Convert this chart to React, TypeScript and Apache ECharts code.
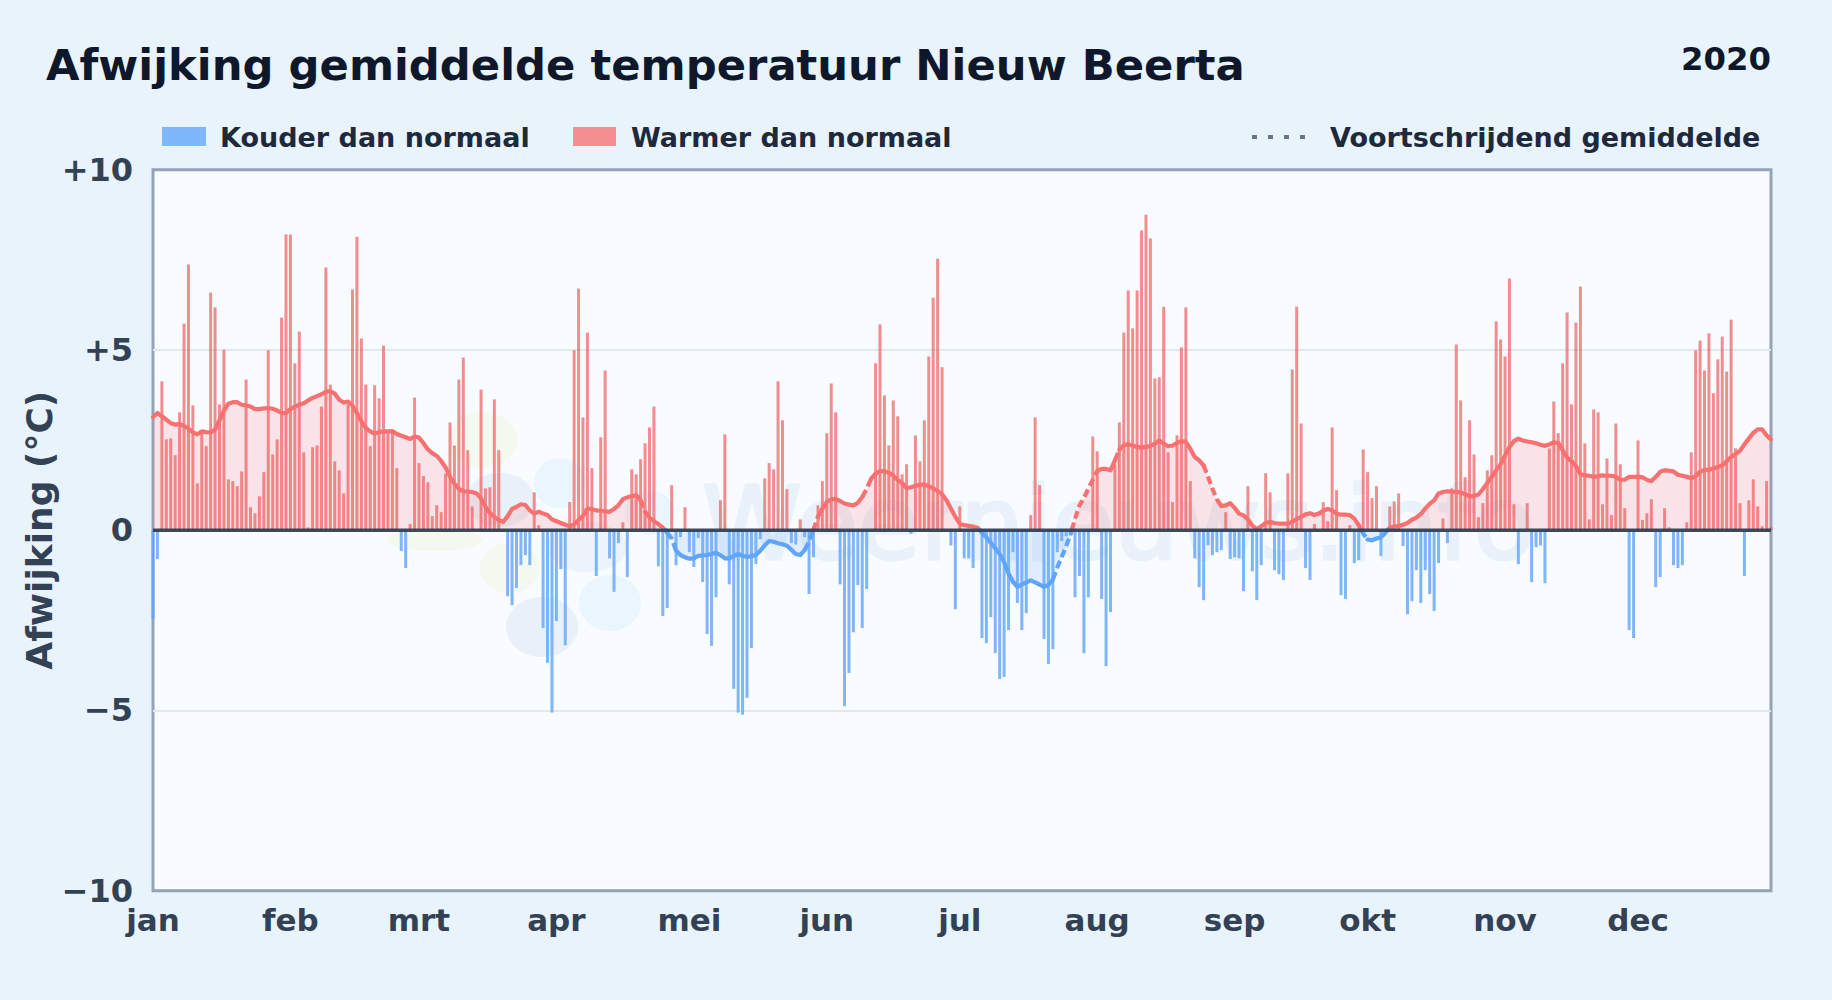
import React, { useEffect, useRef } from "react";
import * as echarts from "echarts";

const title = "Afwijking gemiddelde temperatuur Nieuw Beerta";
const yearLabel = "2020";
const yAxisTitle = "Afwijking (°C)";
const coldLabel = "Kouder dan normaal";
const warmLabel = "Warmer dan normaal";
const averageLabel = "Voortschrijdend gemiddelde";
const watermark = "Weernieuws.info";
const monthLabels = ["jan", "feb", "mrt", "apr", "mei", "jun", "jul", "aug", "sep", "okt", "nov", "dec"];
const monthStartDays = [0, 31, 60, 91, 121, 152, 182, 213, 244, 274, 305, 335];
const yTicks = ["−10", "−5", "0", "+5", "+10"];

const dailyDeviation = [
  -2.46,-0.8,4.13,2.52,2.55,2.08,3.27,5.73,7.37,3.46,
  1.3,2.75,2.33,6.59,6.18,3.49,5.01,1.41,1.36,1.22,
  1.63,4.18,0.64,0.47,0.94,1.61,4.99,2.1,2.52,5.9,
  8.2,8.2,4.63,5.51,2.16,0.08,2.3,2.35,3.43,7.29,
  4.04,1.91,1.66,1.02,3.5,6.68,8.14,5.32,4.04,2.33,
  4.02,3.66,5.12,2.72,2.75,1.72,-0.58,-1.05,0.17,3.68,
  1.86,1.5,1.33,0.39,0.69,0.5,1.57,2.99,2.35,4.18,
  4.79,2.22,0.66,0,3.9,1.16,1.19,3.63,2.22,0,
  -1.83,-2.08,-1.6,-0.97,-0.69,-0.97,1.05,0.14,-2.71,-3.68,
  -5.06,-2.52,-1.08,-3.19,0.78,4.99,6.7,3.13,5.48,1.72,
  -1.27,2.58,4.43,-0.78,-1.71,-0.36,0.22,-1.3,1.69,1.55,
  1.97,2.41,2.85,3.43,-1.0,-2.38,-2.16,1.25,-0.97,-0.19,
  0.64,-0.61,-1.02,-0.22,-1.44,-2.88,-3.21,-1.86,0.83,2.66,
  -1.5,-4.4,-5.06,-5.12,-4.65,-3.27,-0.94,-0.25,1.44,1.86,
  1.69,4.13,3.05,1.14,-0.36,-0.4,0.3,-0.19,-1.77,-0.75,
  0.69,1.36,2.69,4.07,3.27,-1.5,-4.88,-3.96,-2.83,-1.52,
  -2.71,-1.63,0,4.63,5.71,3.74,2.35,3.6,3.16,1.55,
  1.83,-0.1,2.63,1.91,3.05,4.82,6.45,7.53,4.52,0,
  -0.42,-2.19,0.66,-0.78,-0.78,-1.05,0,-2.99,-3.13,-2.41,
  -3.41,-4.13,-4.07,-2.77,-0.61,-2.02,-2.77,-2.3,0.42,3.13,
  1.25,-3.02,-3.71,-3.3,-0.61,-0.3,-0.17,-0.15,-1.86,-1.27,
  -3.41,-1.86,2.6,2.19,-1.91,-3.77,-2.27,1.83,2.99,5.48,
  6.65,5.6,6.65,8.31,8.75,8.09,4.21,4.24,6.2,2.16,
  0.78,2.63,5.07,6.18,1.36,-0.78,-1.58,-1.94,-0.42,-0.69,
  -0.61,-0.55,0.5,-0.8,-0.75,-0.78,-1.69,1.22,-1.14,-1.94,
  -0.97,1.58,1.05,-1.11,-1.22,-1.38,1.58,4.46,6.2,2.96,
  -1.05,-1.38,0.17,0,0.78,0.25,2.85,1.11,-1.8,-1.91,
  0.14,-0.91,-0.83,2.24,1.61,0.89,1.22,-0.72,0,0.66,
  0.8,1.02,-0.44,-2.33,-1.97,-1.11,-2.02,-1.11,-1.77,-2.24,
  -0.91,0.33,-0.36,1.16,5.15,3.6,1.47,3.05,2.1,0.36,
  0.75,1.66,2.08,5.79,5.29,4.82,6.98,0.72,-0.94,0,
  0.75,-1.44,-0.47,-0.42,-1.47,2.27,3.57,2.69,4.63,6.04,
  3.49,5.76,6.76,2.41,0.3,3.35,3.27,0.72,1.99,0.42,
  2.96,1.83,0.61,-2.77,-2.99,2.49,0.28,0.47,0.86,-1.58,
  -1.3,0.61,0.08,-0.97,-1.05,-0.97,0.22,2.16,4.99,5.26,
  4.43,5.46,3.8,4.74,5.37,4.4,5.84,2.27,0.75,-1.27,
  0.83,1.41,0.66,0.11,1.36,0.08,
];

const movingAverage = [
  3.14,3.25,3.16,3.07,2.97,2.93,2.95,2.89,2.82,2.71,
  2.66,2.74,2.72,2.71,2.79,3.05,3.32,3.51,3.55,3.55,
  3.48,3.46,3.43,3.36,3.36,3.38,3.39,3.37,3.32,3.25,
  3.25,3.36,3.43,3.48,3.52,3.6,3.67,3.72,3.77,3.84,
  3.86,3.79,3.62,3.54,3.57,3.46,3.25,3.02,2.84,2.74,
  2.68,2.72,2.74,2.74,2.75,2.67,2.62,2.58,2.53,2.6,
  2.57,2.42,2.24,2.14,2.06,1.92,1.74,1.48,1.29,1.15,
  1.08,1.07,1.06,1.02,0.88,0.65,0.48,0.37,0.28,0.23,
  0.39,0.59,0.65,0.72,0.7,0.55,0.46,0.51,0.46,0.42,
  0.3,0.25,0.2,0.15,0.11,0.16,0.28,0.4,0.6,0.59,
  0.55,0.54,0.52,0.51,0.59,0.69,0.86,0.91,0.94,0.97,
  0.83,0.51,0.35,0.25,0.17,0.07,-0.07,-0.23,-0.57,-0.69,
  -0.75,-0.79,-0.78,-0.71,-0.7,-0.69,-0.66,-0.63,-0.69,-0.78,
  -0.78,-0.72,-0.66,-0.71,-0.74,-0.72,-0.69,-0.57,-0.42,-0.3,
  -0.32,-0.36,-0.39,-0.43,-0.54,-0.66,-0.69,-0.55,-0.32,0.02,
  0.37,0.6,0.78,0.86,0.87,0.81,0.74,0.71,0.69,0.76,
  0.92,1.15,1.43,1.57,1.64,1.64,1.59,1.52,1.39,1.31,
  1.17,1.19,1.23,1.26,1.27,1.22,1.16,1.09,1.0,0.83,
  0.6,0.37,0.18,0.14,0.12,0.1,0.07,-0.07,-0.2,-0.35,
  -0.5,-0.66,-0.88,-1.2,-1.43,-1.57,-1.51,-1.45,-1.39,-1.45,
  -1.51,-1.57,-1.52,-1.37,-1.03,-0.74,-0.44,-0.11,0.32,0.69,
  0.9,1.15,1.4,1.64,1.7,1.7,1.66,1.94,2.23,2.36,
  2.38,2.35,2.31,2.29,2.31,2.34,2.4,2.49,2.4,2.33,
  2.35,2.42,2.47,2.45,2.26,2.03,1.94,1.8,1.48,1.15,
  0.85,0.67,0.69,0.75,0.62,0.46,0.41,0.3,0.13,0.03,
  0.11,0.2,0.23,0.2,0.18,0.18,0.18,0.23,0.31,0.37,
  0.44,0.47,0.42,0.46,0.54,0.59,0.55,0.46,0.43,0.43,
  0.42,0.32,0.14,-0.09,-0.26,-0.28,-0.23,-0.2,-0.07,0.07,
  0.1,0.12,0.15,0.2,0.29,0.35,0.45,0.6,0.73,0.83,
  1.02,1.06,1.08,1.07,1.06,1.05,1.0,0.94,0.95,0.99,
  1.14,1.31,1.48,1.66,1.83,2.07,2.31,2.47,2.54,2.49,
  2.46,2.44,2.41,2.37,2.34,2.38,2.44,2.42,2.22,2.01,
  1.92,1.78,1.56,1.52,1.51,1.48,1.5,1.52,1.51,1.51,
  1.48,1.4,1.4,1.48,1.48,1.48,1.47,1.4,1.36,1.48,
  1.62,1.66,1.65,1.63,1.54,1.51,1.48,1.44,1.5,1.62,
  1.67,1.68,1.71,1.75,1.8,1.91,2.03,2.11,2.2,2.38,
  2.54,2.7,2.8,2.8,2.63,2.52,
];

// stretches (first day, last day) where the average is drawn dashed
const dashedStretches = [[110, 111], [116, 118], [147, 150], [160, 162], [203, 213], [217, 218], [237, 241], [272, 274]];

const RED = "#f87171";
const BLUE = "#60a5fa";
const BAR_RED = "#ef4444";
const FONT = "'DejaVu Sans', sans-serif";

type Pt = [number, number | null];

function isDashed(day: number) {
  return dashedStretches.some(([a, b]) => day >= a && day < b);
}

function buildLineSeries() {
  const groups: Record<string, Pt[]> = { redSolid: [], redDash: [], blueSolid: [], blueDash: [] };
  const areas: Record<string, Pt[]> = { red: [], blue: [] };
  const add = (list: Pt[], a: Pt, b: Pt) => {
    const last = list[list.length - 1];
    if (last && last[0] === a[0] && last[1] === a[1]) {
      list.push(b);
    } else {
      if (last) list.push([a[0], null]);
      list.push(a, b);
    }
  };
  for (let d = 0; d < movingAverage.length - 1; d++) {
    const v0 = movingAverage[d];
    const v1 = movingAverage[d + 1];
    const dash = isDashed(d) ? "Dash" : "Solid";
    const parts: [Pt, Pt, string][] = [];
    if (v0 * v1 < 0) {
      const cx = d + v0 / (v0 - v1);
      parts.push([[d, v0], [cx, 0], v0 > 0 ? "red" : "blue"]);
      parts.push([[cx, 0], [d + 1, v1], v1 > 0 ? "red" : "blue"]);
    } else {
      parts.push([[d, v0], [d + 1, v1], v0 + v1 >= 0 ? "red" : "blue"]);
    }
    for (const [a, b, c] of parts) {
      add(groups[c + dash], a, b);
      add(areas[c], a, b);
    }
  }
  return { groups, areas };
}

export default function App() {
  const ref = useRef<HTMLDivElement>(null);
  useEffect(() => {
    document.body.style.margin = "0";
    const chart = echarts.init(ref.current!, undefined, { renderer: "svg" });
    const { groups, areas } = buildLineSeries();
    const warm = dailyDeviation.map((v, d) => [d, v]).filter((p) => p[1] > 0);
    const cold = dailyDeviation.map((v, d) => [d, v]).filter((p) => p[1] < 0);
    const lineSeries = (data: Pt[], color: string, dashed: boolean) => ({
      type: "line",
      data,
      showSymbol: false,
      symbol: "none",
      z: 6,
      clip: true,
      lineStyle: { color, width: 4.2, type: dashed ? [8, 4] : "solid", cap: dashed ? "butt" : "round", join: "round" },
    });
    const areaSeries = (data: Pt[], color: string) => ({
      type: "line",
      data,
      showSymbol: false,
      symbol: "none",
      z: 3,
      lineStyle: { width: 0 },
      areaStyle: { color, opacity: 1 },
    });
    const blob = (cx: number, cy: number, rx: number, ry: number, fill: string) => ({
      type: "ellipse",
      shape: { cx, cy, rx, ry },
      style: { fill },
      z: 1,
      silent: true,
    });
    const text = (x: number, y: number, t: string, size: number, fill: string, align = "left") => ({
      type: "text",
      x,
      y,
      z: 10,
      style: { text: t, fill, font: `bold ${size}px ${FONT}`, textAlign: align },
    });
    chart.setOption({
      animation: false,
      backgroundColor: "#e8f3fc",
      grid: {
        left: 153,
        right: 61,
        top: 169.7,
        height: 721,
        show: true,
        backgroundColor: "#f8fbff",
        borderColor: "#94a3b8",
        borderWidth: 3,
      },
      xAxis: {
        type: "value",
        min: 0,
        max: 365,
        splitLine: { show: false },
        axisLine: { show: false },
        axisTick: { show: false },
        axisLabel: {
          customValues: monthStartDays,
          formatter: (v: number) => monthLabels[monthStartDays.indexOf(v)] ?? "",
          fontFamily: FONT,
          fontWeight: "bold",
          fontSize: 31,
          color: "#334155",
          margin: 14,
          hideOverlap: false,
        },
      },
      yAxis: {
        type: "value",
        min: -10,
        max: 10,
        interval: 5,
        name: yAxisTitle,
        nameLocation: "middle",
        nameGap: 114,
        nameMoveOverlap: false,
        nameRotate: 90,
        nameTextStyle: { fontFamily: FONT, fontWeight: "bold", fontSize: 36, color: "#334155", verticalAlign: "middle" },
        axisLine: { show: false },
        axisTick: { show: false },
        splitLine: { show: true, showMinLine: false, showMaxLine: false, lineStyle: { color: "#e2e8f0", width: 2 } },
        axisLabel: {
          formatter: (v: number) => yTicks[(v + 10) / 5],
          fontFamily: FONT,
          fontWeight: "bold",
          fontSize: 32,
          color: "#334155",
          margin: 20,
        },
      },
      graphic: [
        blob(483, 440, 34, 28, "#f4f9ef"),
        blob(435, 540, 48, 11, "#f4f9ef"),
        blob(510, 568, 30, 25, "#f4f9ef"),
        blob(500, 500, 34, 27, "#e8f0f9"),
        blob(560, 483, 26, 25, "#eaf5fe"),
        blob(587, 547, 40, 25, "#edf3fb"),
        blob(542, 627, 36, 30, "#e9f0f9"),
        blob(610, 603, 31, 28, "#eaf5fe"),
        blob(650, 513, 25, 22, "#eaf5fe"),
        {
          type: "text",
          x: 702,
          y: 473,
          z: 1,
          silent: true,
          style: { text: watermark, fill: "#e9f1fa", stroke: "#e9f1fa", lineWidth: 3, font: `101px ${FONT}`, textAlign: "left" },
        },
        text(46, 43, title, 43.3, "#0f172a"),
        text(1771, 43, yearLabel, 32.3, "#0f172a", "right"),
        { type: "rect", shape: { x: 162, y: 127, width: 44, height: 19 }, style: { fill: BLUE, opacity: 0.78 }, z: 10 },
        text(220, 124, coldLabel, 27, "#1e293b"),
        { type: "rect", shape: { x: 573, y: 127, width: 43, height: 19 }, style: { fill: RED, opacity: 0.78 }, z: 10 },
        text(631, 124, warmLabel, 27, "#1e293b"),
        {
          type: "line",
          shape: { x1: 1252, y1: 137, x2: 1308, y2: 137 },
          style: { stroke: "#64748b", lineWidth: 4, lineDash: [5, 11] },
          z: 10,
        },
        text(1330, 124, averageLabel, 27, "#1e293b"),
      ],
      series: [
        areaSeries(areas.red, "rgba(248,113,113,0.16)"),
        areaSeries(areas.blue, "rgba(96,165,250,0.16)"),
        {
          type: "bar",
          name: warmLabel,
          data: warm,
          barWidth: 3,
          barGap: "-100%",
          clip: false,
          z: 4,
          itemStyle: { color: BAR_RED, opacity: 0.6 },
        },
        {
          type: "bar",
          name: coldLabel,
          data: cold,
          barWidth: 3,
          barGap: "-100%",
          clip: false,
          z: 4,
          itemStyle: { color: BLUE, opacity: 0.8 },
        },
        lineSeries(groups.redSolid, RED, false),
        lineSeries(groups.redDash, RED, true),
        lineSeries(groups.blueSolid, BLUE, false),
        lineSeries(groups.blueDash, BLUE, true),
        {
          type: "line",
          data: [[0, 0], [365, 0]],
          showSymbol: false,
          symbol: "none",
          z: 8,
          lineStyle: { color: "#334155", width: 3.4, opacity: 0.95 },
        },
      ],
    });
    return () => chart.dispose();
  }, []);
  return <div ref={ref} style={{ width: 1832, height: 1000 }} />;
}
